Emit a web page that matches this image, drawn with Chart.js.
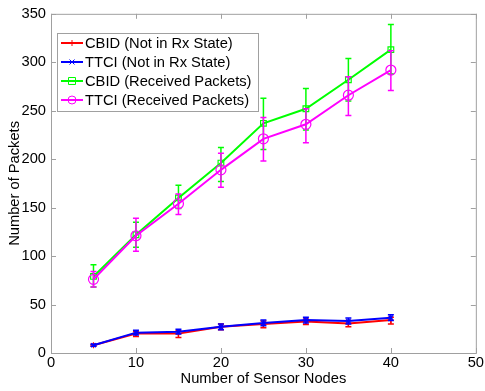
<!DOCTYPE html>
<html>
<head>
<meta charset="utf-8">
<script src="https://cdn.jsdelivr.net/npm/chart.js@4.4.0/dist/chart.umd.min.js"></script>
<style>
  html, body { margin: 0; padding: 0; background: #fff; }
  #wrap { width: 485px; height: 391px; }
</style>
</head>
<body>
<div id="wrap"><canvas id="packetsChart"></canvas></div>
<script>
// sensor node counts
const nodes = [5, 10, 15, 20, 25, 30, 35, 40];
const xTicks = [0, 10, 20, 30, 40, 50];
const yTicks = [0, 50, 100, 150, 200, 250, 300, 350];

const cbidNotRx = [8, 20, 20, 27, 30, 32.5, 30.5, 34];
const cbidNotRxLow = [7, 17, 16, 24, 26, 29.5, 27, 30];
const cbidNotRxHigh = [9, 22, 23, 30, 33, 35, 33.5, 37];

const ttciNotRx = [8, 21, 22, 27, 31, 34, 33, 36.5];
const ttciNotRxLow = [7, 18.5, 19.5, 24, 28, 31, 30, 33.5];
const ttciNotRxHigh = [9, 23.5, 24.5, 30, 34, 37, 36, 39.5];

const cbidRecv = [79, 122, 160, 196, 237, 252, 282, 313];
const cbidRecvLow = [68, 109, 149, 177, 210, 230, 260, 288];
const cbidRecvHigh = [91, 135, 173, 212, 263, 273, 304, 339];

const ttciRecv = [76, 121, 154, 189, 221, 236, 266, 292];
const ttciRecvLow = [68, 105, 143, 171, 198, 217, 245, 271];
const ttciRecvHigh = [84, 139, 164, 206, 243, 252, 285, 312];

const labels = [
  "CBID (Not in Rx State)",
  "TTCI (Not in Rx State)",
  "CBID (Received Packets)",
  "TTCI (Received Packets)",
];

const FONT = "'Liberation Sans', Arial, sans-serif";
const FS = 14.7;

function pts(ys) {
  return nodes.map((x, i) => ({ x: x, y: ys[i] }));
}

// draws vertical error bars with caps for each dataset
const errorBars = {
  id: "errorBars",
  afterDatasetDraw(chart, args) {
    const ds = chart.data.datasets[args.index];
    if (!ds.errLow) return;
    const c = chart.ctx;
    const xs = chart.scales.x;
    const ys = chart.scales.y;
    c.save();
    c.strokeStyle = ds.borderColor;
    c.lineWidth = 1.5;
    nodes.forEach((n, i) => {
      const px = xs.getPixelForValue(n);
      const lo = ys.getPixelForValue(ds.errLow[i]);
      const hi = ys.getPixelForValue(ds.errHigh[i]);
      c.beginPath();
      c.moveTo(px, lo); c.lineTo(px, hi);
      c.moveTo(px - 3, lo); c.lineTo(px + 3, lo);
      c.moveTo(px - 3, hi); c.lineTo(px + 3, hi);
      c.stroke();
    });
    c.restore();
  },
};

// matlab style box with inward ticks and legend in the upper left
const frameAndLegend = {
  id: "frameAndLegend",
  afterDraw(chart) {
    const c = chart.ctx;
    const a = chart.chartArea;
    const xs = chart.scales.x;
    const ys = chart.scales.y;
    c.save();
    c.strokeStyle = "#a0a0a0";
    c.lineWidth = 1;
    c.strokeRect(a.left + 0.5, a.top + 0.5, a.right - a.left, a.bottom - a.top);
    c.beginPath();
    xTicks.forEach(v => {
      const px = Math.round(xs.getPixelForValue(v)) + 0.5;
      c.moveTo(px, a.bottom); c.lineTo(px, a.bottom - 5);
      c.moveTo(px, a.top); c.lineTo(px, a.top + 5);
    });
    yTicks.forEach(v => {
      const py = Math.round(ys.getPixelForValue(v)) + 0.5;
      c.moveTo(a.left, py); c.lineTo(a.left + 5, py);
      c.moveTo(a.right, py); c.lineTo(a.right - 5, py);
    });
    c.stroke();

    // legend
    const lx = 57, ly = 33, lw = 201, lh = 78;
    c.fillStyle = "#fff";
    c.fillRect(lx, ly, lw, lh);
    c.strokeStyle = "#a0a0a0";
    c.strokeRect(lx + 0.5, ly + 0.5, lw, lh);
    c.font = FS + "px " + FONT;
    c.textBaseline = "middle";
    chart.data.datasets.forEach((ds, i) => {
      const y = 43 + i * 19;
      c.strokeStyle = ds.borderColor;
      c.lineWidth = 2;
      c.beginPath();
      c.moveTo(61, y); c.lineTo(83, y);
      c.stroke();
      c.lineWidth = 1;
      c.beginPath();
      const m = 72;
      if (ds.pointStyle === "rect") {
        c.rect(m - 3.5, y - 3.5, 7, 7);
      } else if (ds.pointStyle === "circle") {
        c.arc(m, y, 4, 0, Math.PI * 2);
      } else if (ds.pointStyle === "cross") {
        c.moveTo(m - 3, y); c.lineTo(m + 3, y);
        c.moveTo(m, y - 3); c.lineTo(m, y + 3);
      } else {
        c.moveTo(m - 2.5, y - 2.5); c.lineTo(m + 2.5, y + 2.5);
        c.moveTo(m - 2.5, y + 2.5); c.lineTo(m + 2.5, y - 2.5);
      }
      c.stroke();
      c.fillStyle = "#000";
      c.textAlign = "left";
      c.fillText(ds.label, 85, y + 1);
    });
    c.restore();
  },
};

function series(label, ys, lo, hi, color, style, radius, order) {
  return {
    label: label,
    data: pts(ys),
    errLow: lo,
    errHigh: hi,
    borderColor: color,
    backgroundColor: "rgba(0,0,0,0)",
    pointBorderColor: color,
    pointBackgroundColor: "rgba(0,0,0,0)",
    pointStyle: style,
    pointRadius: radius,
    pointBorderWidth: 1.2,
    borderWidth: 2,
    fill: false,
    tension: 0,
    order: order,
  };
}

const ctx = document.getElementById("packetsChart").getContext("2d");
const packetsChart = new Chart(ctx, {
  type: "line",
  data: {
    datasets: [
      series(labels[0], cbidNotRx, cbidNotRxLow, cbidNotRxHigh, "#ff0000", "cross", 3, 4),
      series(labels[1], ttciNotRx, ttciNotRxLow, ttciNotRxHigh, "#0000ff", "crossRot", 3, 3),
      series(labels[2], cbidRecv, cbidRecvLow, cbidRecvHigh, "#00ff00", "rect", 4, 2),
      series(labels[3], ttciRecv, ttciRecvLow, ttciRecvHigh, "#ff00ff", "circle", 5, 1),
    ],
  },
  options: {
    responsive: true,
    maintainAspectRatio: false,
    animation: false,
    layout: { padding: { top: 12, right: 9, left: 6, bottom: 3 } },
    scales: {
      x: {
        type: "linear",
        min: 0,
        max: 50,
        afterBuildTicks: s => { s.ticks = xTicks.map(v => ({ value: v })); },
        afterFit: s => { s.height = 35; },
        grid: { display: false, drawTicks: false },
        border: { display: false },
        ticks: { color: "#000", font: { family: FONT, size: FS }, padding: 1, maxRotation: 0 },
        title: {
          display: true,
          text: "Number of Sensor Nodes",
          color: "#000",
          font: { family: FONT, size: FS },
          padding: { top: 0, bottom: 0 },
        },
      },
      y: {
        min: 0,
        max: 350,
        afterBuildTicks: s => { s.ticks = yTicks.map(v => ({ value: v })); },
        afterFit: s => { s.width = 45; },
        grid: { display: false, drawTicks: false },
        border: { display: false },
        ticks: { color: "#000", font: { family: FONT, size: FS }, padding: 5 },
        title: {
          display: true,
          text: "Number of Packets",
          color: "#000",
          font: { family: FONT, size: FS },
          padding: { top: 0, bottom: 0 },
        },
      },
    },
    plugins: {
      legend: { display: false },
      tooltip: { enabled: false },
    },
  },
  plugins: [errorBars, frameAndLegend],
});
</script>
</body>
</html>
